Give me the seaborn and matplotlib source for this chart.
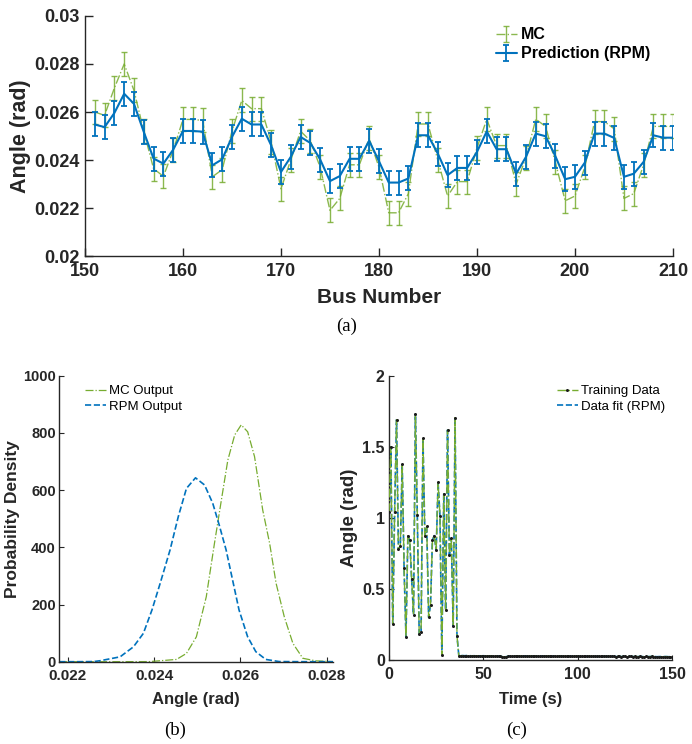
import numpy as np
import pandas as pd
import matplotlib
matplotlib.use("Agg")
import matplotlib.pyplot as plt
import seaborn as sns

# ---------------- data ----------------
bus = list(range(151, 211))
rpm_angle = [0.02548, 0.02537, 0.02596, 0.02676, 0.02634, 0.02517, 0.02406, 0.02385, 0.02443, 0.02521,
             0.02521, 0.02518, 0.02378, 0.02403, 0.02496, 0.02572, 0.02548, 0.02548, 0.02461, 0.02350,
             0.02413, 0.02496, 0.02471, 0.02402, 0.02312, 0.02333, 0.02405, 0.02405, 0.02480, 0.02395,
             0.02306, 0.02306, 0.02323, 0.02503, 0.02503, 0.02427, 0.02337, 0.02367, 0.02367, 0.02434,
             0.02519, 0.02445, 0.02445, 0.02343, 0.02413, 0.02510, 0.02499, 0.02416, 0.02320, 0.02330,
             0.02389, 0.02510, 0.02510, 0.02492, 0.02330, 0.02343, 0.02392, 0.02503, 0.02493, 0.02493]
mc_angle = [0.02600, 0.02586, 0.02700, 0.02800, 0.02690, 0.02520, 0.02364, 0.02332, 0.02440, 0.02569,
            0.02569, 0.02565, 0.02330, 0.02360, 0.02520, 0.02648, 0.02614, 0.02614, 0.02475, 0.02280,
            0.02400, 0.02520, 0.02480, 0.02370, 0.02190, 0.02240, 0.02380, 0.02380, 0.02490, 0.02370,
            0.02180, 0.02180, 0.02260, 0.02550, 0.02550, 0.02400, 0.02250, 0.02310, 0.02310, 0.02450,
            0.02570, 0.02460, 0.02460, 0.02300, 0.02410, 0.02570, 0.02540, 0.02390, 0.02230, 0.02250,
            0.02370, 0.02560, 0.02560, 0.02530, 0.02240, 0.02260, 0.02380, 0.02540, 0.02540, 0.02540]
rpm_err = [0.0005] * len(bus)
mc_err = [0.0005] * len(bus)

# probability density curves
rpm_pdf_x = [0.0218, 0.0222, 0.0226, 0.02275, 0.02321, 0.02352, 0.02375, 0.02395, 0.02414, 0.02437,
             0.02456, 0.02475, 0.02496, 0.02517, 0.02536, 0.02551, 0.02567, 0.02582, 0.02597, 0.02617,
             0.02636, 0.02659, 0.0269, 0.0275, 0.0282]
rpm_pdf_y = [0, 0, 0.5, 3.5, 17, 52, 99, 181, 274, 391,
             507, 606, 643, 618, 554, 478, 391, 286, 181, 87,
             35, 8, 0.5, 0, 0]
mc_pdf_x = [0.0218, 0.0230, 0.0239, 0.02452, 0.02475, 0.02498, 0.02521, 0.02540, 0.02556, 0.02571,
            0.02587, 0.02602, 0.02617, 0.02633, 0.02652, 0.02668, 0.02683, 0.02702, 0.02722, 0.02745,
            0.02775, 0.0282]
mc_pdf_y = [0, 0, 0.5, 8, 29, 87, 227, 414, 565, 705,
            793, 828, 804, 717, 530, 414, 274, 157, 64, 12,
            3, 0]

# training data (time series)
train_head = [1.04, 1.50, 0.253, 1.04, 1.69, 0.78, 0.80, 1.38, 0.645, 0.164,
              0.875, 0.845, 0.57, 0.32, 1.73, 1.02, 0.18, 0.195, 1.56, 0.875,
              0.94, 0.30, 0.387, 0.845, 0.875, 0.774, 1.25, 1.013, 0.035, 1.168,
              0.352, 1.618, 0.739, 0.856, 0.239, 1.705, 0.171, 0.028]
train_tail = [0.030, 0.031, 0.030, 0.031, 0.030, 0.030, 0.029, 0.030, 0.029, 0.030,
              0.029, 0.029, 0.030, 0.029, 0.028, 0.029, 0.029, 0.028, 0.029, 0.028,
              0.027, 0.026, 0.024, 0.022, 0.023, 0.026, 0.028, 0.029, 0.028, 0.029,
              0.029, 0.028, 0.028, 0.029, 0.028, 0.027, 0.028, 0.028, 0.027, 0.028,
              0.028, 0.027, 0.027, 0.028, 0.027, 0.027, 0.028, 0.027, 0.026, 0.027,
              0.027, 0.026, 0.027, 0.027, 0.026, 0.027, 0.026, 0.026, 0.027, 0.026,
              0.026, 0.027, 0.026, 0.025, 0.026, 0.026, 0.025, 0.026, 0.026, 0.025,
              0.026, 0.025, 0.025, 0.026, 0.025, 0.025, 0.026, 0.025, 0.025, 0.026,
              0.025, 0.025, 0.024, 0.025, 0.025, 0.024, 0.025, 0.025, 0.024, 0.025,
              0.025, 0.024, 0.025, 0.024, 0.024, 0.025, 0.024, 0.024, 0.025, 0.024,
              0.024, 0.025, 0.024, 0.024, 0.023, 0.024, 0.024, 0.023, 0.024, 0.024,
              0.023, 0.024, 0.023]
train_values = train_head + train_tail
train_time = list(range(0, len(train_values)))

top_yticks = [0.02, 0.022, 0.024, 0.026, 0.028, 0.03]
top_yticklabels = ["0.02", "0.022", "0.024", "0.026", "0.028", "0.03"]
top_xticks = [150, 160, 170, 180, 190, 200, 210]
pdf_xticks = [0.022, 0.024, 0.026, 0.028]
pdf_xticklabels = ["0.022", "0.024", "0.026", "0.028"]
pdf_yticks = [0, 200, 400, 600, 800, 1000]
ts_xticks = [0, 50, 100, 150]
ts_yticks = [0, 0.5, 1, 1.5, 2]
ts_yticklabels = ["0", "0.5", "1", "1.5", "2"]

# ---------------- style ----------------
sns.set_theme(style="ticks")
plt.rcParams["font.family"] = ["Liberation Sans", "DejaVu Sans"]
plt.rcParams["xtick.direction"] = "in"
plt.rcParams["ytick.direction"] = "in"
plt.rcParams["axes.edgecolor"] = "#262626"
plt.rcParams["xtick.color"] = "#262626"
plt.rcParams["ytick.color"] = "#262626"
plt.rcParams["axes.linewidth"] = 1.0

BLUE = "#0072BD"
GREEN = "#77AC30"
TXT = "#262626"

fig = plt.figure(figsize=(6.92, 7.44), dpi=100)
ax1 = fig.add_axes([0.1228, 0.6559, 0.8497, 0.3226])
ax2 = fig.add_axes([0.0857, 0.1106, 0.3955, 0.3844])
ax3 = fig.add_axes([0.5621, 0.1129, 0.4094, 0.3821])

# ---------------- panel (a) ----------------
df_a = pd.DataFrame({"bus": bus, "rpm": rpm_angle, "mc": mc_angle})
ax1.errorbar(df_a["bus"], df_a["mc"], yerr=mc_err, color=GREEN, alpha=0.85,
             linestyle="-.", linewidth=1.0, elinewidth=1.0, capsize=2.5, capthick=1.0,
             label="MC", zorder=2)
ax1.errorbar(df_a["bus"], df_a["rpm"], yerr=rpm_err, color=BLUE,
             linestyle="-", linewidth=1.5, elinewidth=1.3, capsize=2.5, capthick=1.3,
             label="Prediction (RPM)", zorder=3)
ax1.set_xlim(150, 210)
ax1.set_ylim(0.02, 0.03)
ax1.set_xticks(top_xticks)
ax1.set_xticklabels([str(t) for t in top_xticks])
ax1.set_yticks(top_yticks)
ax1.set_yticklabels(top_yticklabels)
ax1.tick_params(length=6, width=1.0, labelsize=13)
ax1.tick_params(axis="x", pad=5)
ax1.tick_params(axis="y", pad=4)
for lab in ax1.get_xticklabels() + ax1.get_yticklabels():
    lab.set_fontweight("bold")
    lab.set_color(TXT)
ax1.set_xlabel("Bus Number", fontsize=15, fontweight="bold", color=TXT, labelpad=6)
ax1.set_ylabel("Angle (rad)", fontsize=15.5, fontweight="bold", color=TXT, labelpad=2)
sns.despine(ax=ax1)
leg1 = ax1.legend(loc="upper left", bbox_to_anchor=(0.68, 1.0), frameon=False,
                  prop={"weight": "bold", "size": 11.5}, handlelength=1.3,
                  handletextpad=0.25, labelspacing=0.25, borderaxespad=0.3)
for t in leg1.get_texts():
    t.set_color("black")

# ---------------- panel (b) ----------------
df_b1 = pd.DataFrame({"x": mc_pdf_x, "y": mc_pdf_y})
df_b2 = pd.DataFrame({"x": rpm_pdf_x, "y": rpm_pdf_y})
sns.lineplot(data=df_b1, x="x", y="y", ax=ax2, color=GREEN, linewidth=0.9,
             label="MC Output")
ax2.lines[0].set_linestyle("-.")
sns.lineplot(data=df_b2, x="x", y="y", ax=ax2, color=BLUE, linewidth=1.2,
             label="RPM Output")
ax2.lines[1].set_linestyle("--")
ax2.set_xlim(0.0218, 0.02815)
ax2.set_ylim(0, 1000)
ax2.set_xticks(pdf_xticks)
ax2.set_xticklabels(pdf_xticklabels)
ax2.set_yticks(pdf_yticks)
ax2.set_yticklabels([str(v) for v in pdf_yticks])
ax2.tick_params(length=3.5, width=0.8, labelsize=11)
ax2.tick_params(axis="x", pad=5)
ax2.tick_params(axis="y", pad=2.5, labelsize=10.5)
for lab in ax2.get_xticklabels() + ax2.get_yticklabels():
    lab.set_fontweight("bold")
    lab.set_color(TXT)
ax2.set_xlabel("Angle (rad)", fontsize=12, fontweight="bold", color=TXT, labelpad=7)
ax2.set_ylabel("Probability Density", fontsize=12.5, fontweight="bold", color=TXT, labelpad=2)
sns.despine(ax=ax2)
leg_b = ax2.legend(loc="upper left", bbox_to_anchor=(0.06, 1.0), frameon=False,
                   prop={"size": 9.5}, handlelength=1.6, handletextpad=0.2,
                   labelspacing=0.25, borderaxespad=0.3)
for t in leg_b.get_texts():
    t.set_color("black")

# ---------------- panel (c) ----------------
df_c = pd.DataFrame({"t": train_time, "v": train_values})
sns.lineplot(data=df_c, x="t", y="v", ax=ax3, color=BLUE, linewidth=1.2,
             label="Data fit (RPM)", zorder=2)
ax3.lines[0].set_linestyle("--")
sns.lineplot(data=df_c, x="t", y="v", ax=ax3, color=GREEN, linewidth=1.0,
             marker="o", markersize=1.4, markerfacecolor="#1a1a1a",
             markeredgecolor="#1a1a1a", label="Training Data", zorder=3)
ax3.lines[1].set_linestyle("-.")
ax3.set_xlim(0, 150)
ax3.set_ylim(0, 2)
ax3.set_xticks(ts_xticks)
ax3.set_xticklabels([str(v) for v in ts_xticks])
ax3.set_yticks(ts_yticks)
ax3.set_yticklabels(ts_yticklabels)
ax3.tick_params(length=3.5, width=0.8, labelsize=11.5)
ax3.tick_params(axis="x", pad=5)
ax3.tick_params(axis="y", pad=3)
for lab in ax3.get_xticklabels() + ax3.get_yticklabels():
    lab.set_fontweight("bold")
    lab.set_color(TXT)
ax3.set_xlabel("Time (s)", fontsize=12, fontweight="bold", color=TXT, labelpad=7)
ax3.set_ylabel("Angle (rad)", fontsize=13.5, fontweight="bold", color=TXT, labelpad=3)
sns.despine(ax=ax3)
h, l = ax3.get_legend_handles_labels()
leg_c = ax3.legend([h[1], h[0]], [l[1], l[0]], loc="upper left", bbox_to_anchor=(0.56, 1.0),
                   frameon=False, prop={"size": 9.5}, handlelength=1.6, handletextpad=0.2,
                   labelspacing=0.25, borderaxespad=0.3)
for t in leg_c.get_texts():
    t.set_color("black")

# ---------------- captions ----------------
fig.text(0.5014, 1 - 326 / 744, "(a)", ha="center", va="center",
         fontsize=13.5, family=["Liberation Serif", "DejaVu Serif"], color="black")
fig.text(0.2530, 1 - 730 / 744, "(b)", ha="center", va="center",
         fontsize=13.5, family=["Liberation Serif", "DejaVu Serif"], color="black")
fig.text(0.7470, 1 - 730 / 744, "(c)", ha="center", va="center",
         fontsize=13.5, family=["Liberation Serif", "DejaVu Serif"], color="black")

fig.savefig("out.png", dpi=100)
